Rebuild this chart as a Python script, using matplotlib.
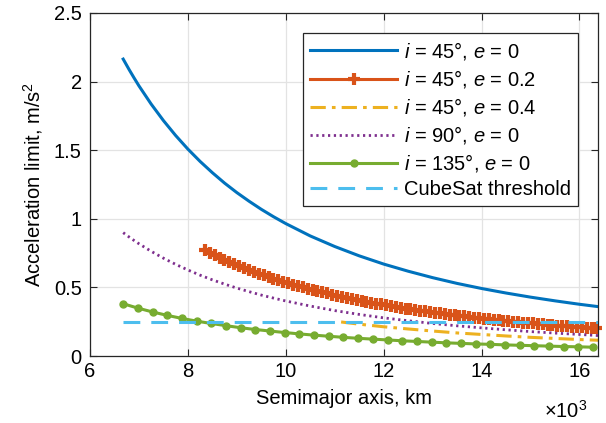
import numpy as np
import matplotlib
matplotlib.use('Agg')
import matplotlib.pyplot as plt
from matplotlib.ticker import FormatStrFormatter

plt.rcParams['font.family'] = 'Liberation Sans'
plt.rcParams['mathtext.fontset'] = 'custom'
plt.rcParams['mathtext.rm'] = 'Liberation Sans'
plt.rcParams['mathtext.it'] = 'Liberation Sans:italic'

# semimajor axis in thousands of km, acceleration limit in m/s^2
a_circ = [6.678, 6.8, 6.9, 7.0, 7.25, 7.5, 7.75, 8.0, 8.25, 8.5, 8.75, 9.0,
          9.25, 9.5, 9.75, 10.0, 10.5, 11.0, 11.5, 12.0, 12.5, 13.0, 13.5,
          14.0, 14.5, 15.0, 15.5, 16.0, 16.378]
acc_45_0 = [2.164, 2.087, 2.027, 1.969, 1.836, 1.716, 1.607, 1.508, 1.418,
            1.336, 1.260, 1.191, 1.128, 1.069, 1.015, 0.965, 0.875, 0.798,
            0.730, 0.670, 0.618, 0.571, 0.529, 0.492, 0.459, 0.429, 0.402,
            0.377, 0.360]
acc_90_0 = [0.899, 0.867, 0.842, 0.818, 0.763, 0.713, 0.668, 0.627, 0.589,
            0.555, 0.524, 0.495, 0.469, 0.444, 0.422, 0.401, 0.364, 0.331,
            0.303, 0.278, 0.257, 0.237, 0.220, 0.205, 0.191, 0.178, 0.167,
            0.157, 0.149]

a_e02 = [8.347, 8.447, 8.547, 8.647, 8.747, 8.847, 8.947, 9.047, 9.147, 9.247,
         9.347, 9.447, 9.547, 9.647, 9.747, 9.847, 9.947, 10.047, 10.147, 10.247,
         10.347, 10.447, 10.547, 10.647, 10.747, 10.847, 10.947, 11.047, 11.147, 11.247,
         11.347, 11.447, 11.547, 11.647, 11.747, 11.847, 11.947, 12.047, 12.147, 12.247,
         12.347, 12.447, 12.547, 12.647, 12.747, 12.847, 12.947, 13.047, 13.147, 13.247,
         13.347, 13.447, 13.547, 13.647, 13.747, 13.847, 13.947, 14.047, 14.147, 14.247,
         14.347, 14.447, 14.547, 14.647, 14.747, 14.847, 14.947, 15.047, 15.147, 15.247,
         15.347, 15.447, 15.547, 15.647, 15.747, 15.847, 15.947, 16.047, 16.147, 16.247,
         16.347]
acc_45_02 = [0.769, 0.751, 0.734, 0.717, 0.701, 0.685, 0.670, 0.655, 0.641, 0.627,
             0.614, 0.601, 0.588, 0.576, 0.564, 0.553, 0.542, 0.531, 0.521, 0.511,
             0.501, 0.491, 0.482, 0.473, 0.464, 0.456, 0.447, 0.439, 0.431, 0.424,
             0.416, 0.409, 0.402, 0.395, 0.388, 0.382, 0.376, 0.369, 0.363, 0.357,
             0.352, 0.346, 0.341, 0.335, 0.330, 0.325, 0.320, 0.315, 0.310, 0.305,
             0.301, 0.296, 0.292, 0.288, 0.284, 0.280, 0.276, 0.272, 0.268, 0.264,
             0.260, 0.257, 0.253, 0.250, 0.247, 0.243, 0.240, 0.237, 0.234, 0.231,
             0.228, 0.225, 0.222, 0.219, 0.216, 0.213, 0.211, 0.208, 0.206, 0.203,
             0.201]

a_e04 = [11.13, 11.5, 12.0, 12.5, 13.0, 13.5, 14.0, 14.5, 15.0, 15.5, 16.0, 16.378]
acc_45_04 = [0.248, 0.232, 0.213, 0.197, 0.182, 0.168, 0.157, 0.146, 0.136,
             0.128, 0.120, 0.115]

a_135 = [6.678, 6.978, 7.278, 7.578, 7.878, 8.178, 8.478, 8.778, 9.078, 9.378,
         9.678, 9.978, 10.278, 10.578, 10.878, 11.178, 11.478, 11.778, 12.078, 12.378,
         12.678, 12.978, 13.278, 13.578, 13.878, 14.178, 14.478, 14.778, 15.078, 15.378,
         15.678, 15.978, 16.278]
acc_135_0 = [0.381, 0.349, 0.321, 0.296, 0.274, 0.254, 0.237, 0.221, 0.206, 0.193,
             0.182, 0.171, 0.161, 0.152, 0.144, 0.136, 0.129, 0.123, 0.117, 0.111,
             0.106, 0.101, 0.096, 0.092, 0.088, 0.085, 0.081, 0.078, 0.075, 0.072,
             0.069, 0.067, 0.064]

a_thr = [6.678, 16.378]
cubesat_thr = [0.25, 0.25]

fig = plt.figure(figsize=(6.06, 4.23), dpi=100)
ax = fig.add_axes([90/606, 67/423, 508/606, 343/423])

lw = 2.2
ax.plot(a_circ, acc_45_0, color='#0072BD', lw=lw, solid_joinstyle='round',
        label=r'$i$ = 45°, $e$ = 0')
ax.plot(a_e02, acc_45_02, color='#D95319', lw=lw, marker='+', markersize=9,
        markeredgewidth=3, label=r'$i$ = 45°, $e$ = 0.2', clip_on=False)
ax.plot(a_e04, acc_45_04, color='#EDB120', lw=lw, dashes=(5, 2, 1.2, 2),
        label=r'$i$ = 45°, $e$ = 0.4')
ax.plot(a_circ, acc_90_0, color='#7E2F8E', lw=2, dashes=(0.8, 1.3),
        label=r'$i$ = 90°, $e$ = 0')
ax.plot(a_135, acc_135_0, color='#77AC30', lw=lw, marker='o', markersize=5,
        label=r'$i$ = 135°, $e$ = 0')
ax.plot(a_thr, cubesat_thr, color='#4DBEEE', lw=lw, dashes=(5.5, 3.6),
        label='CubeSat threshold')

ax.set_xlim(6, 16.378)
ax.set_ylim(0, 2.5)
ax.set_xticks([6, 8, 10, 12, 14, 16])
ax.set_yticks([0, 0.5, 1, 1.5, 2, 2.5])
ax.yaxis.set_major_formatter(FormatStrFormatter('%g'))
ax.grid(True, color='#e3e3e3', lw=0.9)
ax.set_axisbelow(True)
ax.tick_params(direction='in', length=5, width=0.8, top=True, right=True,
               labelsize=14.5, colors='#262626', labelcolor='black')
ax.tick_params(axis='x', pad=4)
ax.tick_params(axis='y', pad=6)
for s in ax.spines.values():
    s.set_color('#262626')
    s.set_linewidth(0.9)

ax.set_xlabel('Semimajor axis, km', fontsize=14.5, labelpad=6)
ax.set_ylabel('Acceleration limit, m/s$^2$', fontsize=14.5, labelpad=6)
fig.text(566/606, 1 - 411/423, r'$\times$10$^3$', fontsize=14.5, ha='center', va='center')

leg = ax.legend(loc='upper right', bbox_to_anchor=(0.9606, 0.9417), borderaxespad=0,
                fontsize=14.5, handlelength=4.3, handletextpad=0.35, labelspacing=0.3,
                borderpad=0.35, numpoints=1, fancybox=False, framealpha=1)
leg.get_frame().set_edgecolor('#262626')
leg.get_frame().set_linewidth(0.9)

fig.savefig('out.png', dpi=100)
